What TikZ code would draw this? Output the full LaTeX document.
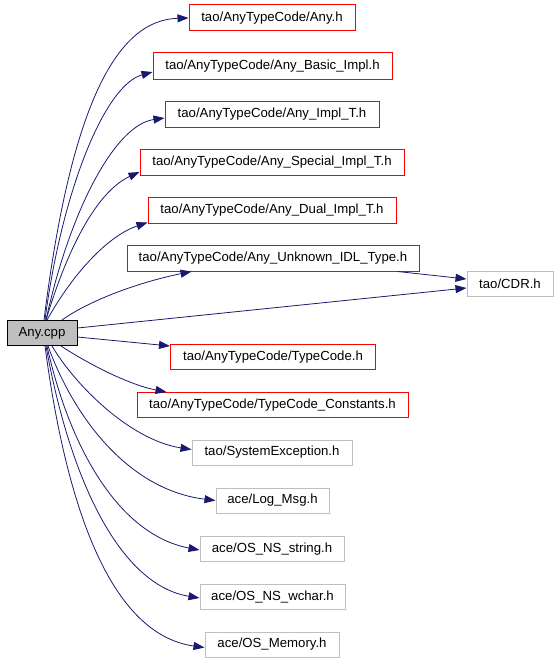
\documentclass[tikz,border=0pt]{standalone}
\usepackage{fontspec}
\setmainfont{Liberation Sans}
\usepackage{xcolor}
\usepackage{tikz}
\usetikzlibrary{arrows.meta, calc}
\definecolor{edgeblue}{RGB}{25,25,112}
\definecolor{boxred}{RGB}{255,0,0}
\definecolor{boxgray}{RGB}{191,191,191}
\tikzset{
  hdrbox/.style={rectangle, draw=boxred, fill=white, inner sep=0pt,
    minimum height=26pt, font=\fontsize{13.2}{15}\selectfont, line width=1pt},
  sysbox/.style={rectangle, draw=boxgray, fill=white, inner sep=0pt,
    minimum height=25pt, font=\fontsize{13.2}{15}\selectfont, line width=1pt},
  mainbox/.style={rectangle, draw=black, fill=boxgray, inner sep=0pt,
    minimum height=25pt, font=\fontsize{13.2}{15}\selectfont, line width=1pt},
  dep/.style={-{Triangle[length=11pt,width=8pt]}, line width=0.8pt, color=edgeblue}
}

\begin{document}
\begin{tikzpicture}[x=1pt, y=-1pt]
  \useasboundingbox (0,0) rectangle (557,661);

  % Source file
  \node[mainbox, minimum width=70pt] (cpp) at (42,333) {Any.cpp};

  % Included headers
  \node[hdrbox, minimum width=166pt] (anyh) at (272,18) {tao/AnyTypeCode/Any.h};
  \node[hdrbox, minimum width=239pt] (basic) at (272.5,66) {tao/AnyTypeCode/Any\_Basic\_Impl.h};
  \node[hdrbox, minimum width=214pt] (implt) at (272,114) {tao/AnyTypeCode/Any\_Impl\_T.h};
  \node[hdrbox, minimum width=264pt] (special) at (272,162) {tao/AnyTypeCode/Any\_Special\_Impl\_T.h};
  \node[hdrbox, minimum width=248pt] (dual) at (272,210) {tao/AnyTypeCode/Any\_Dual\_Impl\_T.h};
  \node[hdrbox, minimum width=292pt] (unknown) at (273,258) {tao/AnyTypeCode/Any\_Unknown\_IDL\_Type.h};
  \node[sysbox, minimum width=86pt] (cdr) at (510,284) {tao/CDR.h};
  \node[hdrbox, minimum width=205pt, minimum height=25pt] (typecode) at (273,357) {tao/AnyTypeCode/TypeCode.h};
  \node[hdrbox, minimum width=271pt, minimum height=25pt] (constants) at (272.5,405) {tao/AnyTypeCode/TypeCode\_Constants.h};
  \node[sysbox, minimum width=160pt] (sysexc) at (272,452.5) {tao/SystemException.h};
  \node[sysbox, minimum width=113pt] (logmsg) at (272.5,500.5) {ace/Log\_Msg.h};
  \node[sysbox, minimum width=144pt] (nsstring) at (272,549) {ace/OS\_NS\_string.h};
  \node[sysbox, minimum width=145pt] (nswchar) at (272.5,597) {ace/OS\_NS\_wchar.h};
  \node[sysbox, minimum width=134pt] (memory) at (272,644.5) {ace/OS\_Memory.h};

  % Upward edges
  \draw[dep] ($(cpp.north)+(2,0)$) .. controls (72,95) and (120,20) .. (anyh.west);
  \draw[dep] ($(cpp.north)+(3,0)$) .. controls (62,190) and (105,85) .. ($(basic.west)+(0,6)$);
  \draw[dep] ($(cpp.north)+(4,0)$) .. controls (70,210) and (115,125) .. ($(implt.west)+(0,4)$);
  \draw[dep] ($(cpp.north)+(4,0)$) .. controls (70,240) and (100,190) .. ($(special.west)+(0,10)$);
  \draw[dep] ($(cpp.north)+(5,0)$) .. controls (75,270) and (110,235) .. ($(dual.south west)+(0,-1)$);
  \draw[dep] ($(cpp.north)+(20,0)$) .. controls (90,300) and (140,282) .. ($(unknown.south west)+(65,0)$);

  % Straight edges
  \draw[dep] ($(unknown.south east)+(-22,0)$) -- ($(cdr.west)+(0,-5)$);
  \draw[dep] ($(cpp.east)+(0,-5)$) -- ($(cdr.west)+(0,4)$);
  \draw[dep] ($(cpp.east)+(0,4)$) -- ($(typecode.north west)+(0,2)$);

  % Downward edges
  \draw[dep] ($(cpp.south)+(19,0)$) .. controls (90,365) and (130,385) .. ($(constants.north west)+(30,0)$);
  \draw[dep] ($(cpp.south)+(10,0)$) .. controls (75,385) and (130,440) .. ($(sysexc.west)+(0,-3)$);
  \draw[dep] ($(cpp.south)+(6,0)$) .. controls (75,420) and (130,490) .. (logmsg.west);
  \draw[dep] ($(cpp.south)+(5,0)$) .. controls (70,450) and (120,535) .. ($(nsstring.west)+(0,1)$);
  \draw[dep] ($(cpp.south)+(4,0)$) .. controls (70,480) and (120,585) .. ($(nswchar.west)+(0,1)$);
  \draw[dep] ($(cpp.south)+(3,0)$) .. controls (68,520) and (115,635) .. ($(memory.west)+(0,3)$);
\end{tikzpicture}
\end{document}
